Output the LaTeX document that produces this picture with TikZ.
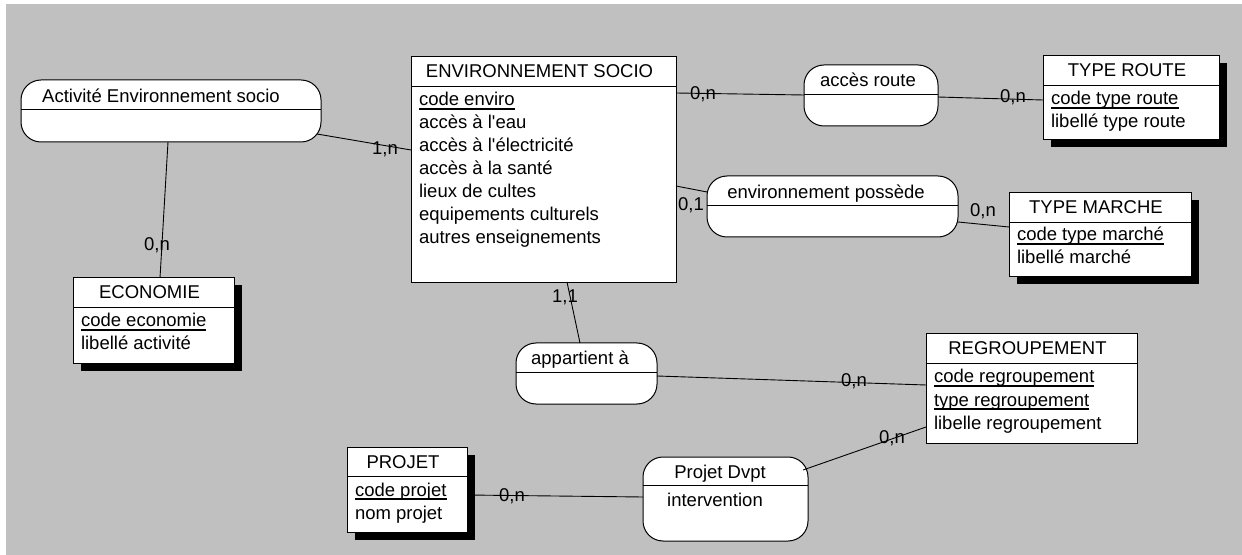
\documentclass[tikz,border=0pt]{standalone}
\usepackage{fontspec}
\setmainfont{Liberation Sans}[Ligatures=TeXOff]
\usetikzlibrary{calc,shadows}

% identifier attribute: underline at a fixed depth below the baseline
\newcommand{\keyattr}[1]{\sbox0{#1}\rlap{\rule[-3.7bp]{\wd0}{1.8bp}}\usebox0}

\definecolor{canvas}{HTML}{C0C0C0}

\begin{document}
\begin{tikzpicture}[x=1bp,y=-1bp,
  every node/.style={font=\fontsize{18.5bp}{23bp}\selectfont, inner sep=0pt, outer sep=0pt},
  entity/.style={draw=black, line width=1bp, fill=white, rectangle, anchor=north west},
  shadowed/.style={drop shadow={shadow xshift=7.5bp, shadow yshift=-7.5bp, opacity=1, fill=black}},
  relation/.style={draw=black, line width=1bp, fill=white, rectangle, rounded corners=20bp, anchor=north west},
  link/.style={draw=black, line width=0.9bp},
  title/.style={anchor=base},
  attr/.style={anchor=base west},
  card/.style={anchor=base},
]
% page and grey canvas
\fill[white] (0,0) rectangle (1242,555);
\fill[canvas] (6,4) rectangle (1242,555);
\useasboundingbox (0,0) rectangle (1242,555);

% ---------- entities ----------
\node[entity, minimum width=265bp, minimum height=225bp] (env) at (411,57) {};
\node[entity, shadowed, minimum width=161bp, minimum height=85bp] (eco) at (73,278) {};
\node[entity, shadowed, minimum width=176bp, minimum height=84bp] (tr) at (1043,56) {};
\node[entity, shadowed, minimum width=182bp, minimum height=84bp] (tm) at (1009,193) {};
\node[entity, minimum width=211bp, minimum height=109bp] (reg) at (926,334) {};
\node[entity, shadowed, minimum width=120bp, minimum height=85bp] (prj) at (347,447) {};

% ---------- relationships ----------
\node[relation, minimum width=300bp, minimum height=62bp] (act) at (21,80) {};
\node[relation, minimum width=134bp, minimum height=61bp] (acc) at (804,65) {};
\node[relation, minimum width=251bp, minimum height=61bp] (pos) at (707,176) {};
\node[relation, minimum width=141bp, minimum height=61bp] (app) at (516,343) {};
\node[relation, minimum width=165bp, minimum height=84bp] (dvp) at (643,457) {};

% header dividers
\foreach \n in {env,eco,tr,tm,reg,prj,act,acc,pos,app}
  \draw[link] ($(\n.north west)+(0,29)$) -- ($(\n.north east)+(0,29)$);
\draw[link] ($(dvp.north west)+(0,28)$) -- ($(dvp.north east)+(0,28)$);

% connectors
\draw[link] ($(act.south east)+(-4,-8)$) -- ($(env.north west)+(0,93)$);
\draw[link] ($(act.south west)+(147,0)$) -- ($(eco.north west)+(87,0)$);
\draw[link] ($(env.north east)+(0,36)$) -- ($(acc.north west)+(0,30)$);
\draw[link] ($(acc.north east)+(0,32)$) -- ($(tr.north west)+(0,44)$);
\draw[link] ($(env.north east)+(0,129)$) -- ($(pos.north west)+(0,16)$);
\draw[link] ($(pos.north east)+(0,46)$) -- ($(tm.north west)+(0,34)$);
\draw[link] ($(env.south west)+(156,0)$) -- ($(app.north west)+(64,0)$);
\draw[link] ($(app.north east)+(0,33)$) -- ($(reg.north west)+(0,51)$);
\draw[link] ($(prj.north east)+(0,48)$) -- ($(dvp.north west)+(0,40)$);
\draw[link] ($(dvp.north east)+(-5,13)$) -- ($(reg.north west)+(0,93)$);

% ---------- entity texts ----------
\node[title] (envT) at (539.5,78) {ENVIRONNEMENT SOCIO};
\node[attr] (envA1) at (419,106) {\keyattr{code enviro}};
\node[attr] (envA2) at (419,129) {accès à l'eau};
\node[attr] (envA3) at (419,152) {accès à l'électricité};
\node[attr] (envA4) at (419,175) {accès à la santé};
\node[attr] (envA5) at (419,198) {lieux de cultes};
\node[attr] (envA6) at (419,221) {equipements culturels};
\node[attr] (envA7) at (419,244) {autres enseignements};

\node[title] (ecoT) at (149.5,299) {ECONOMIE};
\node[attr] (ecoA1) at (81,327) {\keyattr{code economie}};
\node[attr] (ecoA2) at (81,350) {libellé activité};

\node[title] (trT) at (1127,77) {TYPE ROUTE};
\node[attr] (trA1) at (1051,105) {\keyattr{code type route}};
\node[attr] (trA2) at (1051,128) {libellé type route};

\node[title] (tmT) at (1096,214) {TYPE MARCHE};
\node[attr] (tmA1) at (1017,241) {\keyattr{code type marché}};
\node[attr] (tmA2) at (1017,264) {libellé marché};

\node[title] (regT) at (1027.5,355) {REGROUPEMENT};
\node[attr] (regA1) at (934,383) {\keyattr{code regroupement}};
\node[attr] (regA2) at (934,406) {\keyattr{type regroupement}};
\node[attr] (regA3) at (934,429) {libelle regroupement};

\node[title] (prjT) at (403,468) {PROJET};
\node[attr] (prjA1) at (355,496) {\keyattr{code projet}};
\node[attr] (prjA2) at (355,519) {nom projet};

% ---------- relationship texts ----------
\node[title] (actT) at (161,103) {Activité Environnement socio};
\node[title] (accT) at (868,87) {accès route};
\node[title] (posT) at (826,198.5) {environnement possède};
\node[title] (appT) at (580,365) {appartient à};
\node[title] (dvpT) at (720,478) {Projet Dvpt};
\node[title] (dvpA) at (715,506.5) {intervention};

% ---------- cardinalities ----------
\node[card] (c1) at (385,154.5) {1,n};
\node[card] (c2) at (157,251) {0,n};
\node[card] (c3) at (703,100) {0,n};
\node[card] (c4) at (1013,103) {0,n};
\node[card] (c5) at (691,211) {0,1};
\node[card] (c6) at (983,217) {0,n};
\node[card] (c7) at (565,303) {1,1};
\node[card] (c8) at (854,387) {0,n};
\node[card] (c9) at (892,443) {0,n};
\node[card] (c10) at (512,501) {0,n};
\end{tikzpicture}
\end{document}
